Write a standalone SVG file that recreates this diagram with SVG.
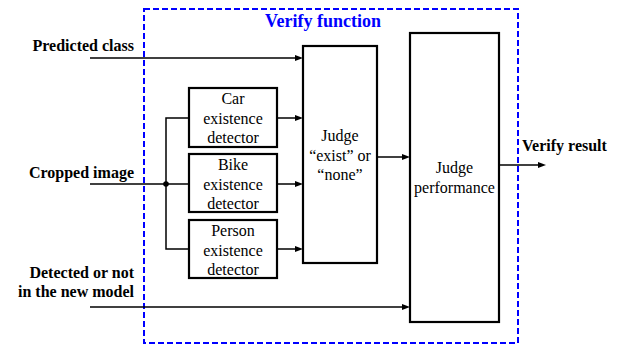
<svg xmlns="http://www.w3.org/2000/svg" width="622" height="347" viewBox="0 0 622 347">
  <style>
    .box { fill: #fff; stroke: #000; stroke-width: 2.2; }
    .wire { fill: none; stroke: #000; stroke-width: 1.5; }
    .head { fill: #000; }
  </style>
  <rect width="622" height="347" fill="#fff"/>

  <!-- outer dashed boundary of the verify function -->
  <g id="verify-function">
    <rect x="144" y="9" width="374" height="334" fill="none" stroke="#0000ff" stroke-width="2" stroke-dasharray="6,3"/>
    <text x="323" y="27" text-anchor="middle" font-family="'Liberation Serif', 'Times New Roman', serif" font-size="18" font-weight="bold" fill="#0000ff">Verify function</text>
  </g>

  <!-- inputs and output -->
  <g id="in-class"><text x="134" y="51" text-anchor="end" font-family="'Liberation Serif', 'Times New Roman', serif" font-size="16" font-weight="bold">Predicted class</text></g>
  <g id="in-image"><text x="134" y="178" text-anchor="end" font-family="'Liberation Serif', 'Times New Roman', serif" font-size="16" font-weight="bold">Cropped image</text></g>
  <g id="in-detected">
    <text x="134" y="278" text-anchor="end" font-family="'Liberation Serif', 'Times New Roman', serif" font-size="16" font-weight="bold">Detected or not</text>
    <text x="134" y="297" text-anchor="end" font-family="'Liberation Serif', 'Times New Roman', serif" font-size="16" font-weight="bold">in the new model</text>
  </g>
  <g id="out-result"><text x="522" y="151" font-family="'Liberation Serif', 'Times New Roman', serif" font-size="16" font-weight="bold">Verify result</text></g>

  <!-- wires and arrowheads -->
  <g id="connectors">
    <line class="wire" x1="90" y1="58" x2="296" y2="58"/>
    <polygon class="head" points="303,58 295,55 295,61"/>
    <line class="wire" x1="90" y1="184" x2="189" y2="184"/>
    <polyline class="wire" points="189,118 166,118 166,249 189,249"/>
    <circle cx="166" cy="184" r="2.8" fill="#000"/>
    <line class="wire" x1="277" y1="118" x2="296" y2="118"/>
    <polygon class="head" points="303,118 295,115 295,121"/>
    <line class="wire" x1="277" y1="184" x2="296" y2="184"/>
    <polygon class="head" points="303,184 295,181 295,187"/>
    <line class="wire" x1="277" y1="249" x2="296" y2="249"/>
    <polygon class="head" points="303,249 295,246 295,252"/>
    <line class="wire" x1="377" y1="157" x2="403" y2="157"/>
    <polygon class="head" points="410,157 402,154 402,160"/>
    <line class="wire" x1="90" y1="307" x2="403" y2="307"/>
    <polygon class="head" points="410,307 402,304 402,310"/>
    <line class="wire" x1="499" y1="165" x2="539" y2="165"/>
    <polygon class="head" points="546,165 538,162 538,168"/>
  </g>

  <!-- existence detectors -->
  <g id="car-detector">
    <rect class="box" x="189" y="88" width="88" height="59"/>
    <text x="233" y="104" text-anchor="middle" font-family="'Liberation Serif', 'Times New Roman', serif" font-size="16">Car</text>
    <text x="233" y="124" text-anchor="middle" font-family="'Liberation Serif', 'Times New Roman', serif" font-size="16">existence</text>
    <text x="233" y="143" text-anchor="middle" font-family="'Liberation Serif', 'Times New Roman', serif" font-size="16">detector</text>
  </g>
  <g id="bike-detector">
    <rect class="box" x="189" y="154" width="88" height="58"/>
    <text x="233" y="170" text-anchor="middle" font-family="'Liberation Serif', 'Times New Roman', serif" font-size="16">Bike</text>
    <text x="233" y="190" text-anchor="middle" font-family="'Liberation Serif', 'Times New Roman', serif" font-size="16">existence</text>
    <text x="233" y="209" text-anchor="middle" font-family="'Liberation Serif', 'Times New Roman', serif" font-size="16">detector</text>
  </g>
  <g id="person-detector">
    <rect class="box" x="189" y="220" width="88" height="58"/>
    <text x="233" y="236" text-anchor="middle" font-family="'Liberation Serif', 'Times New Roman', serif" font-size="16">Person</text>
    <text x="233" y="256" text-anchor="middle" font-family="'Liberation Serif', 'Times New Roman', serif" font-size="16">existence</text>
    <text x="233" y="275" text-anchor="middle" font-family="'Liberation Serif', 'Times New Roman', serif" font-size="16">detector</text>
  </g>

  <!-- judging stages -->
  <g id="judge-exist">
    <rect class="box" x="303" y="46" width="74" height="217"/>
    <text x="340" y="141" text-anchor="middle" font-family="'Liberation Serif', 'Times New Roman', serif" font-size="16">Judge</text>
    <text x="340" y="161" text-anchor="middle" font-family="'Liberation Serif', 'Times New Roman', serif" font-size="16">&#8220;exist&#8221; or</text>
    <text x="340" y="180" text-anchor="middle" font-family="'Liberation Serif', 'Times New Roman', serif" font-size="16">&#8220;none&#8221;</text>
  </g>
  <g id="judge-performance">
    <rect class="box" x="410" y="33" width="89" height="289"/>
    <text x="454.5" y="173" text-anchor="middle" font-family="'Liberation Serif', 'Times New Roman', serif" font-size="16">Judge</text>
    <text x="454.5" y="193" text-anchor="middle" font-family="'Liberation Serif', 'Times New Roman', serif" font-size="16">performance</text>
  </g>
</svg>
